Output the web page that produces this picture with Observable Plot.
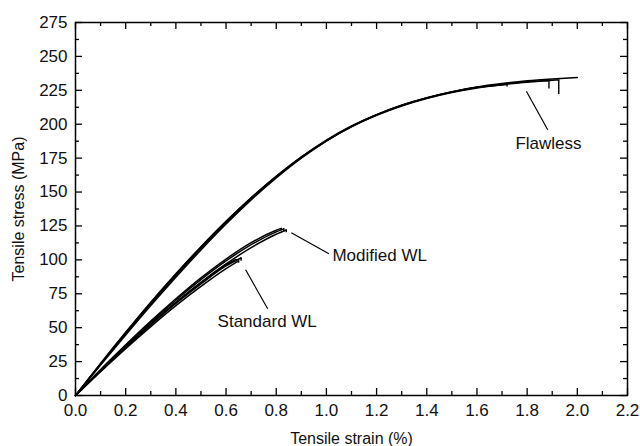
<!DOCTYPE html>
<html><head><meta charset="utf-8">
<script src="https://cdn.jsdelivr.net/npm/d3@7"></script>
<script src="https://cdn.jsdelivr.net/npm/@observablehq/plot@0.6"></script>
<style>body{margin:0;background:#fff}</style>
</head><body><div id="chart"></div>
<script>
// ---- data ----
const flawlessGrid = [0,0.1,0.2,0.3,0.4,0.5,0.6,0.7,0.8,0.9,1.0,1.1,1.2,1.3,1.4,1.5,1.6,1.7,1.8,1.9,2.0];
const flawlessA = [0,23,45.5,67.5,88.5,108.5,127.5,145,161,175.5,188,198.5,207,214,219.5,224,227.5,230,232,233.4,234.5];
const flawlessB = [0,23.7,46.6,68.8,89.8,109.7,128.4,145.7,161.5,175.6,187.8,198.1,206.5,213.4,218.9,223.3,226.7,229.1,231,null,null];
const flawlessC = [0,22.4,44.6,66.3,87.2,107.3,126.4,144.2,160.4,175,187.6,198.2,206.8,213.8,219.3,223.7,227.1,229.5,231.4,232.4,null];
const flawlessD = [0,23.4,46.2,68.3,89.3,109.3,128.2,145.7,161.6,175.9,188.3,198.7,207.1,214,219.4,223.8,227.2,null,null,null,null];
const flawlessFailStrain = [2.0,1.887,1.926,1.72];
const flawlessFailStress = [234.5,232,232.6,229.3];
const flawlessDropStress = [null,226,222,227.5];

const modifiedGrid = [0,0.1,0.2,0.3,0.4,0.5,0.6,0.7,0.8];
const modifiedA = [0,18.7,36.6,53.8,70.2,85.4,99.2,111.2,120.6];
const modifiedB = [0,18.3,35.8,52.6,68.6,83.5,97,109,118.9];
const modifiedC = [0,19.1,37.3,54.8,71.3,86.7,100.6,112.7,121.8];
const modifiedFailStrain = [0.83,0.84,0.82];
const modifiedFailStress = [122.9,122,123.2];
const modifiedDropStress = [120.5,120,121.5];

const standardGrid = [0,0.1,0.2,0.3,0.4,0.5,0.6];
const standardA = [0,18,35.4,52,67.8,82.3,95.6];
const standardB = [0,17.6,34.6,50.8,66.2,80.4,93.5];
const standardC = [0,18.3,35.9,52.7,68.6,83.2,96.5];
const standardFailStrain = [0.66,0.65,0.64];
const standardFailStress = [101.4,99.3,100.3];
const standardDropStress = [99,97.5,98.5];

const labelText = ["Flawless","Modified WL","Standard WL"];
const labelStrain = [1.885,1.024,0.764];
const labelStress = [185.6,103.2,54.8];
const labelAnchor = ["middle","start","middle"];
const pointerFromStrain = [1.797,0.860,0.678];
const pointerFromStress = [224.3,120.0,92.7];
const pointerToStrain = [1.882,1.010,0.766];
const pointerToStress = [195.9,104.5,63.9];

const xMajor = [0,0.2,0.4,0.6,0.8,1.0,1.2,1.4,1.6,1.8,2.0,2.2];
const xMinor = [0.1,0.3,0.5,0.7,0.9,1.1,1.3,1.5,1.7,1.9,2.1];
const yMajor = [0,25,50,75,100,125,150,175,200,225,250,275];
const yMinor = [12.5,37.5,62.5,87.5,112.5,137.5,162.5,187.5,212.5,237.5,262.5];
const xTitle = "Tensile strain (%)";
const yTitle = "Tensile stress (MPa)";

// ---- build tables ----
const series = [];
const drops = [];
function addGroup(name, grid, specimens, failStrain, failStress, dropStress) {
  specimens.forEach((vals, i) => {
    grid.forEach((x, j) => {
      if (vals[j] != null && x < failStrain[i]) series.push({id: name + i, strain: x, stress: vals[j]});
    });
    series.push({id: name + i, strain: failStrain[i], stress: failStress[i]});
    if (dropStress[i] != null) drops.push({strain: failStrain[i], top: failStress[i], bottom: dropStress[i]});
  });
}
addGroup("F", flawlessGrid, [flawlessA, flawlessB, flawlessC, flawlessD], flawlessFailStrain, flawlessFailStress, flawlessDropStress);
addGroup("M", modifiedGrid, [modifiedA, modifiedB, modifiedC], modifiedFailStrain, modifiedFailStress, modifiedDropStress);
addGroup("S", standardGrid, [standardA, standardB, standardC], standardFailStrain, standardFailStress, standardDropStress);

const labels = labelText.map((t, i) => ({text: t, strain: labelStrain[i], stress: labelStress[i], anchor: labelAnchor[i]}));
const pointers = labelText.map((t, i) => ({x1: pointerFromStrain[i], y1: pointerFromStress[i], x2: pointerToStrain[i], y2: pointerToStress[i]}));

// layout
const W = 640, H = 446, mL = 75, mR = 13, mT = 22, mB = 51;
const innerW = W - mL - mR, innerH = H - mT - mB;
const majorLen = 7, minorLen = 4;
const tickStyle = {stroke: "black", strokeWidth: 1.3};

const font = "'Liberation Sans', Arial, Helvetica, sans-serif";
const chart = Plot.plot({
  width: W, height: H,
  marginLeft: mL, marginRight: mR, marginTop: mT, marginBottom: mB,
  style: {fontFamily: font, fontSize: "17px", color: "#111", background: "#fff"},
  x: {domain: [0, 2.2], axis: null},
  y: {domain: [0, 275], axis: null},
  marks: [
    // inward ticks on all four sides
    Plot.tickX(xMajor, {x: d => d, insetTop: innerH - majorLen, ...tickStyle}),
    Plot.tickX(xMinor, {x: d => d, insetTop: innerH - minorLen, ...tickStyle}),
    Plot.tickX(xMajor, {x: d => d, insetBottom: innerH - majorLen, ...tickStyle}),
    Plot.tickX(xMinor, {x: d => d, insetBottom: innerH - minorLen, ...tickStyle}),
    Plot.tickY(yMajor, {y: d => d, insetRight: innerW - majorLen, ...tickStyle}),
    Plot.tickY(yMinor, {y: d => d, insetRight: innerW - minorLen, ...tickStyle}),
    Plot.tickY(yMajor, {y: d => d, insetLeft: innerW - majorLen, ...tickStyle}),
    Plot.tickY(yMinor, {y: d => d, insetLeft: innerW - minorLen, ...tickStyle}),
    // tick labels
    Plot.axisX(xMajor, {anchor: "bottom", tickSize: 0, tickPadding: 8, tickFormat: d3.format(".1f"), label: null, fontSize: 17}),
    Plot.axisY(yMajor, {anchor: "left", tickSize: 0, tickPadding: 8, tickFormat: d3.format("d"), label: null, fontSize: 17}),
    Plot.frame({stroke: "black", strokeWidth: 1.5}),
    // curves
    Plot.line(series, {x: "strain", y: "stress", z: "id", curve: "monotone-x", stroke: "black", strokeWidth: 1.5}),
    Plot.ruleX(drops, {x: "strain", y1: "top", y2: "bottom", stroke: "black", strokeWidth: 1.4}),
    // annotations
    Plot.link(pointers, {x1: "x1", y1: "y1", x2: "x2", y2: "y2", stroke: "black", strokeWidth: 1.2}),
    Plot.text(labels.filter(d => d.anchor === "middle"), {x: "strain", y: "stress", text: "text", textAnchor: "middle", fontSize: 17, fill: "#111"}),
    Plot.text(labels.filter(d => d.anchor === "start"), {x: "strain", y: "stress", text: "text", textAnchor: "start", fontSize: 17, fill: "#111"}),
    // axis titles
    Plot.text([xTitle], {frameAnchor: "bottom", dy: 43, textAnchor: "middle", lineAnchor: "middle", fontSize: 16, fill: "#111"}),
    Plot.text([yTitle], {frameAnchor: "left", dx: -57, rotate: -90, textAnchor: "middle", lineAnchor: "middle", fontSize: 16, fill: "#111"})
  ]
});
document.getElementById("chart").appendChild(chart);
</script></body></html>
